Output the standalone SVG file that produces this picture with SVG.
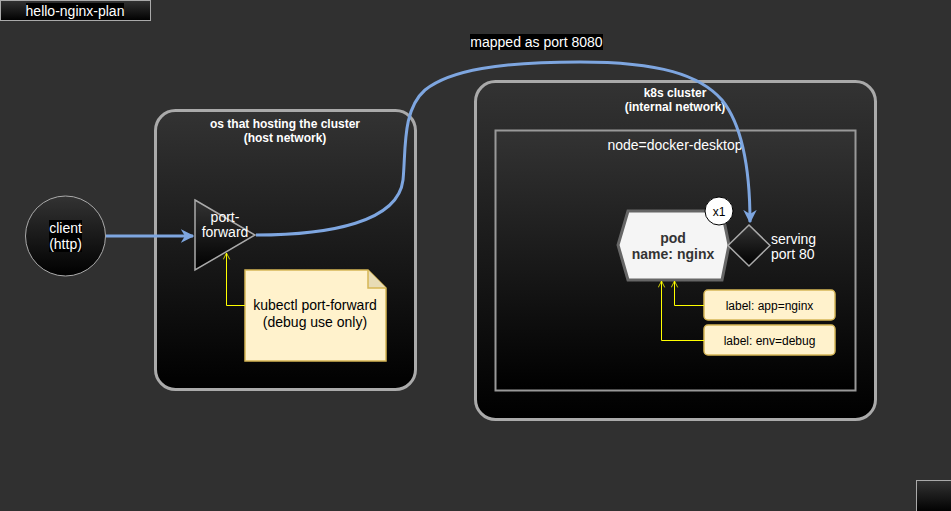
<svg xmlns="http://www.w3.org/2000/svg" width="951" height="511" viewBox="0 0 951 511">
<style>
text{font-family:"Liberation Sans",Arial,sans-serif;font-size:14px}
.w{fill:#fff}
.b{fill:#000}
.bold{font-weight:bold}
.t12{font-size:12px}
.ctr{text-anchor:middle}
.ybox{fill:#fff2cc;stroke:#d6b656;stroke-width:1.5}
.yl{fill:none;stroke:#ffff00;stroke-width:1}
.blue{fill:none;stroke:#7ea6e0;stroke-width:3}
</style>
<defs>
<linearGradient id="g" x1="0" y1="0" x2="0" y2="1">
<stop offset="0" stop-color="#333"/>
<stop offset="1" stop-color="#000"/>
</linearGradient>
<marker id="ab" viewBox="0 0 10 10" refX="9" refY="5" markerWidth="4.5" markerHeight="4.5" orient="auto" markerUnits="strokeWidth">
<path d="M0,0 L10,5 L0,10 L3,5 z" fill="#7ea6e0"/>
</marker>
<marker id="ay" viewBox="0 0 10 10" refX="9" refY="5" markerWidth="8" markerHeight="8" orient="auto" markerUnits="strokeWidth">
<path d="M1,1 L9,5 L1,9" fill="none" stroke="#ffff00" stroke-width="1"/>
</marker>
</defs>
<rect width="951" height="511" fill="#303030"/>

<g id="title">
<rect x="0.5" y="0.5" width="150" height="20" fill="url(#g)" stroke="#aaa"/>
<rect x="26" y="3" width="98" height="16" fill="#000"/>
<text x="75" y="16" class="w ctr">hello-nginx-plan</text>
</g>

<g id="host">
<rect x="155.5" y="110.5" width="260" height="279" rx="20" fill="url(#g)" stroke="#aaa" stroke-width="3"/>
<text x="285" y="128" class="w bold t12 ctr">os that hosting the cluster</text>
<text x="285" y="142" class="w bold t12 ctr">(host network)</text>
</g>

<g id="cluster">
<rect x="475.5" y="81.5" width="400" height="338" rx="20" fill="url(#g)" stroke="#aaa" stroke-width="3"/>
<text x="675" y="97" class="w bold t12 ctr">k8s cluster</text>
<text x="675" y="111" class="w bold t12 ctr">(internal network)</text>
</g>

<g id="node">
<rect x="495.5" y="130.5" width="360" height="260" fill="url(#g)" stroke="#999" stroke-width="2"/>
<text x="675" y="150" class="w ctr">node=docker-desktop</text>
</g>

<g id="client">
<circle cx="65.5" cy="236" r="40" fill="url(#g)" stroke="#aaa"/>
<rect x="49" y="220" width="33" height="16" fill="#000"/>
<rect x="49" y="236" width="33" height="16" fill="#000"/>
<text x="65.5" y="233" class="w ctr">client</text>
<text x="65.5" y="249" class="w ctr">(http)</text>
</g>

<g id="portforward">
<path d="M195,200 L255,235 L195,270 Z" fill="url(#g)" stroke="#aaa" stroke-width="1.5"/>
<text x="225" y="222" class="w ctr">port-</text>
<text x="225" y="237" class="w ctr">forward</text>
</g>

<g id="note">
<path d="M245,270 L368,270 L386,288 L386,361 L245,361 Z" class="ybox"/>
<path d="M368,270 L368,288 L386,288" fill="#e8dcb5" stroke="#d6b656" stroke-width="1.5"/>
<text x="315" y="310" class="b ctr">kubectl port-forward</text>
<text x="315" y="327" class="b ctr">(debug use only)</text>
</g>

<g id="pod">
<path d="M628,211 L722,211 L729,245 L722,280 L628,280 L618,245 Z" fill="#f5f5f5" stroke="#666" stroke-width="3"/>
<text x="673" y="243" class="bold ctr" fill="#333">pod</text>
<text x="673" y="259" class="bold ctr" fill="#333">name: nginx</text>
</g>

<g id="replicas">
<circle cx="719" cy="211" r="14" fill="#fff" stroke="#000"/>
<text x="719" y="215.5" class="b ctr t12">x1</text>
</g>

<g id="serving">
<path d="M749,225 L770,245.5 L749,266 L728,245.5 Z" fill="url(#g)" stroke="#aaa" stroke-width="1.5"/>
<text x="771" y="244" class="w">serving</text>
<text x="771" y="259" class="w">port 80</text>
</g>

<g id="label-app">
<rect x="704" y="290" width="131" height="30" rx="4" class="ybox"/>
<text x="769.5" y="309.5" class="b t12 ctr">label: app=nginx</text>
</g>

<g id="label-env">
<rect x="704" y="325" width="131" height="30" rx="4" class="ybox"/>
<text x="769.5" y="344.5" class="b t12 ctr">label: env=debug</text>
</g>

<g id="corner">
<rect x="916.5" y="480.5" width="36" height="32" fill="url(#g)" stroke="#aaa"/>
</g>

<g id="connectors">
<path d="M106,236 L193,236" class="blue" marker-end="url(#ab)"/>
<path d="M256,235 C330,235 398,222 403,180 C406,150 402,110 425,90 C450,70 500,62 580,62 C660,62 700,75 722,100 C742,125 750,170 750,222" class="blue" marker-end="url(#ab)"/>
<path d="M245,305.5 L226.5,305.5 L226.5,253" class="yl" marker-end="url(#ay)"/>
<path d="M704,305.5 L674.5,305.5 L674.5,281" class="yl" marker-end="url(#ay)"/>
<path d="M704,340.5 L661.5,340.5 L661.5,281" class="yl" marker-end="url(#ay)"/>
</g>

<g id="mapped-label">
<rect x="470" y="34" width="133" height="16" fill="#000"/>
<text x="536.5" y="47" class="w ctr">mapped as port 8080</text>
</g>
</svg>
